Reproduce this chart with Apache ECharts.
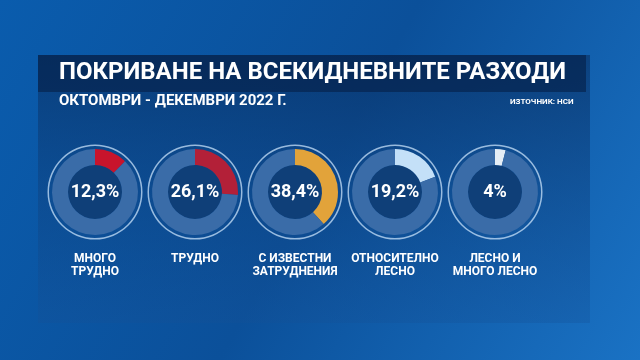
<!DOCTYPE html>
<html><head><meta charset="utf-8">
<script src="https://cdn.jsdelivr.net/npm/echarts@6/dist/echarts.min.js"></script>
<style>html,body{margin:0;padding:0;background:#0b58a4}#c{width:640px;height:360px}</style>
</head><body><div id="c"></div>
<script>
const categories = ['МНОГО\nТРУДНО', 'ТРУДНО', 'С ИЗВЕСТНИ\nЗАТРУДНЕНИЯ', 'ОТНОСИТЕЛНО\nЛЕСНО', 'ЛЕСНО И\nМНОГО ЛЕСНО'];
const values = [12.3, 26.1, 38.4, 19.2, 4];
const valueLabels = ['12,3%', '26,1%', '38,4%', '19,2%', '4%'];
const colors = ['#c8142c', '#b32038', '#e2a33a', '#c4e0f8', '#e6eef6'];
const titleText = 'ПОКРИВАНЕ НА ВСЕКИДНЕВНИТЕ РАЗХОДИ';
const subtitleText = 'ОКТОМВРИ - ДЕКЕМВРИ 2022 Г.';
const sourceText = 'ИЗТОЧНИК: НСИ';

const FONT = 'Roboto, "Open Sans", sans-serif';
const chart = echarts.init(document.getElementById('c'));
const series = [];
const cx0 = 95, dx = 100, cy = 192;
values.forEach((v, i) => {
  const cx = cx0 + dx * i;
  series.push({
    type: 'pie', silent: true, radius: [0, 27], center: [cx, cy],
    label: {show: false}, labelLine: {show: false},
    data: [{value: 1, itemStyle: {color: '#0f3f78'}}]
  });
  series.push({
    type: 'pie', silent: true, radius: [46, 47.5], center: [cx, cy],
    label: {show: false}, labelLine: {show: false},
    data: [{value: 1, itemStyle: {color: 'rgba(200,225,250,0.75)'}}]
  });
  series.push({
    type: 'pie', silent: true, radius: [27, 43], center: [cx, cy],
    startAngle: 90, clockwise: true,
    labelLine: {show: false},
    data: [
      {value: v, itemStyle: {color: colors[i]},
        label: {show: true, position: 'center', formatter: valueLabels[i],
          color: '#ffffff', fontSize: 18, fontWeight: 'bold', fontFamily: FONT}},
      {value: 100 - v, itemStyle: {color: '#3a6ca8'}, label: {show: false}}
    ]
  });
});

const graphic = [
  {type: 'rect', z: -10, shape: {x: 0, y: 0, width: 640, height: 360},
    style: {fill: new echarts.graphic.LinearGradient(0, 0, 1, 1, [
      {offset: 0, color: '#0a5cad'}, {offset: 0.5, color: '#0b509a'}, {offset: 1, color: '#1a72c4'}])}},
  {type: 'rect', z: -9, shape: {x: 38, y: 55, width: 552, height: 268},
    style: {fill: new echarts.graphic.LinearGradient(0, 0, 0, 1, [
      {offset: 0, color: 'rgba(8,45,95,0.6)'}, {offset: 1, color: 'rgba(20,80,150,0.3)'}])}},
  {type: 'rect', z: -8, shape: {x: 38, y: 55, width: 548, height: 37},
    style: {fill: 'rgba(6,36,78,0.7)'}},
  {type: 'text', left: 59, top: 61, style: {text: titleText, fill: '#ffffff',
    font: 'bold 24px ' + FONT}},
  {type: 'text', left: 59, top: 94, style: {text: subtitleText, fill: '#ffffff',
    font: 'bold 15px ' + FONT}},
  {type: 'text', left: 510, top: 98, style: {text: sourceText, fill: '#ffffff',
    font: 'bold 8px ' + FONT}}
];
categories.forEach((c, i) => {
  graphic.push({type: 'text', x: cx0 + dx * i, y: 252,
    style: {text: c, fill: '#ffffff', font: 'bold 12px ' + FONT, align: 'center',
      verticalAlign: 'top', lineHeight: 13}});
});

chart.setOption({animation: false, series: series, graphic: graphic});
</script></body></html>
